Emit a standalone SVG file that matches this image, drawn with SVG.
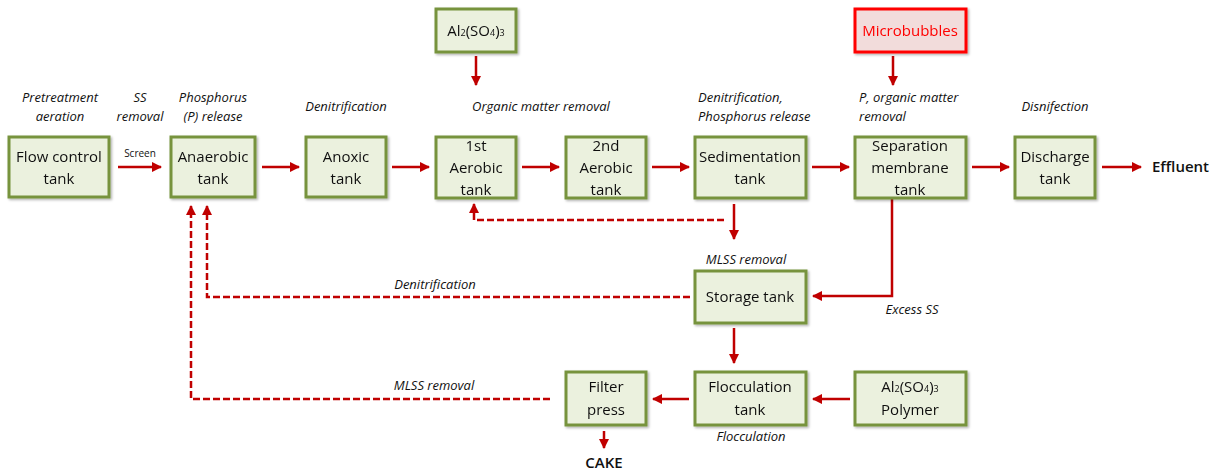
<svg xmlns="http://www.w3.org/2000/svg" width="1219" height="475" viewBox="0 0 1219 475">
<style>
.box{fill:#ebf1de;stroke:#77933c;stroke-width:3}
.red{fill:#f2dcdb;stroke:#ff0000;stroke-width:3}
.t{font-family:"Open Sans","Liberation Sans",sans-serif;font-size:15px;fill:#111;text-anchor:middle}
.it{font-family:"Open Sans","Liberation Sans",sans-serif;font-size:13px;font-style:italic;fill:#111;text-anchor:middle}
.ln{fill:none;stroke:#c00000;stroke-width:2.5}
.dl{fill:none;stroke:#c00000;stroke-width:2.5;stroke-dasharray:7 3}
.sub{font-size:9px}
</style>
<defs>
<marker id="ah" viewBox="0 0 10 10" refX="9" refY="5" markerWidth="4.2" markerHeight="4.2" orient="auto" markerUnits="strokeWidth">
<path d="M0,0 L10,5 L0,10 z" fill="#c00000"/>
</marker>
<filter id="sh" x="-10%" y="-10%" width="130%" height="130%"><feDropShadow dx="1.5" dy="1.5" stdDeviation="1" flood-color="#000" flood-opacity="0.3"/></filter>
</defs>

<g id="connectors">
<line class="ln" x1="118" y1="167" x2="161" y2="167" marker-end="url(#ah)"/>
<line class="ln" x1="262" y1="167" x2="299" y2="167" marker-end="url(#ah)"/>
<line class="ln" x1="392" y1="167" x2="429" y2="167" marker-end="url(#ah)"/>
<line class="ln" x1="522" y1="167" x2="559" y2="167" marker-end="url(#ah)"/>
<line class="ln" x1="652" y1="167" x2="689" y2="167" marker-end="url(#ah)"/>
<line class="ln" x1="812" y1="167" x2="849" y2="167" marker-end="url(#ah)"/>
<line class="ln" x1="972" y1="167" x2="1009" y2="167" marker-end="url(#ah)"/>
<line class="ln" x1="1102" y1="167" x2="1141" y2="167" marker-end="url(#ah)"/>
<line class="ln" x1="476" y1="56" x2="476" y2="85" marker-end="url(#ah)"/>
<line class="ln" x1="893" y1="56" x2="893" y2="85" marker-end="url(#ah)"/>
<line class="ln" x1="734" y1="204" x2="734" y2="239" marker-end="url(#ah)"/>
<polyline class="dl" points="724,220 474,220 474,204" marker-end="url(#ah)"/>
<polyline class="ln" points="892,199 892,296 813,296" marker-end="url(#ah)"/>
<polyline class="dl" points="690,297 207,297 207,206" marker-end="url(#ah)"/>
<line class="ln" x1="734" y1="328" x2="734" y2="363" marker-end="url(#ah)"/>
<line class="ln" x1="850" y1="399" x2="813" y2="399" marker-end="url(#ah)"/>
<line class="ln" x1="689" y1="399" x2="653" y2="399" marker-end="url(#ah)"/>
<line class="ln" x1="604" y1="431" x2="604" y2="448" marker-end="url(#ah)"/>
<polyline class="dl" points="550,399 191,399 191,206" marker-end="url(#ah)"/>
</g>

<g id="labels">
<text class="it" x="60" y="102">Pretreatment</text>
<text class="it" x="60" y="121">aeration</text>
<text class="it" x="140" y="102">SS</text>
<text class="it" x="140" y="121">removal</text>
<text class="it" x="213" y="102">Phosphorus</text>
<text class="it" x="213" y="121">(P) release</text>
<text class="it" x="346" y="111">Denitrification</text>
<text class="it" x="541" y="111">Organic matter removal</text>
<text class="it" x="698" y="102" style="text-anchor:start">Denitrification,</text>
<text class="it" x="698" y="121" style="text-anchor:start">Phosphorus release</text>
<text class="it" x="859" y="102" style="text-anchor:start">P, organic matter</text>
<text class="it" x="859" y="121" style="text-anchor:start">removal</text>
<text class="it" x="1055" y="111">Disnifection</text>
<text class="it" x="746" y="264">MLSS removal</text>
<text class="it" x="435" y="289">Denitrification</text>
<text class="it" x="912" y="314">Excess SS</text>
<text class="it" x="434" y="390">MLSS removal</text>
<text class="it" x="751" y="441">Flocculation</text>
<text x="140" y="157" style="font-family:'Open Sans','Liberation Sans',sans-serif;font-size:10px;fill:#111;text-anchor:middle">Screen</text>
<text class="t" x="1152" y="172" style="font-weight:600;text-anchor:start">Effluent</text>
<text class="t" x="604" y="468" style="font-weight:600">CAKE</text>
</g>

<g id="flow-control" filter="url(#sh)"><rect class="box" x="9" y="137" width="100" height="60"/>
<text class="t" x="59" y="162">Flow control</text><text class="t" x="59" y="184">tank</text></g>
<g id="anaerobic" filter="url(#sh)"><rect class="box" x="171" y="137" width="84" height="60"/>
<text class="t" x="213" y="162">Anaerobic</text><text class="t" x="213" y="184">tank</text></g>
<g id="anoxic" filter="url(#sh)"><rect class="box" x="306" y="137" width="80" height="60"/>
<text class="t" x="346" y="162">Anoxic</text><text class="t" x="346" y="184">tank</text></g>
<g id="aerobic1" filter="url(#sh)"><rect class="box" x="436" y="137" width="80" height="61"/>
<text class="t" x="476" y="151">1st</text><text class="t" x="476" y="173">Aerobic</text><text class="t" x="476" y="195">tank</text></g>
<g id="aerobic2" filter="url(#sh)"><rect class="box" x="566" y="137" width="80" height="61"/>
<text class="t" x="606" y="151">2nd</text><text class="t" x="606" y="173">Aerobic</text><text class="t" x="606" y="195">tank</text></g>
<g id="sedimentation" filter="url(#sh)"><rect class="box" x="695" y="137" width="111" height="61"/>
<text class="t" x="750" y="162">Sedimentation</text><text class="t" x="750" y="184">tank</text></g>
<g id="separation" filter="url(#sh)"><rect class="box" x="855" y="137" width="111" height="61"/>
<text class="t" x="910" y="151">Separation</text><text class="t" x="910" y="173">membrane</text><text class="t" x="910" y="195">tank</text></g>
<g id="discharge" filter="url(#sh)"><rect class="box" x="1015" y="137" width="80" height="61"/>
<text class="t" x="1055" y="162">Discharge</text><text class="t" x="1055" y="184">tank</text></g>
<g id="alum-top" filter="url(#sh)"><rect class="box" x="436" y="9" width="80" height="43"/>
<text class="t" x="476" y="36">Al<tspan class="sub">2</tspan>(SO<tspan class="sub">4</tspan>)<tspan class="sub">3</tspan></text></g>
<g id="microbubbles" filter="url(#sh)"><rect class="red" x="855" y="9" width="111" height="43"/>
<text class="t" x="910" y="36" style="fill:#ff0000">Microbubbles</text></g>
<g id="storage" filter="url(#sh)"><rect class="box" x="695" y="271" width="111" height="52"/>
<text class="t" x="750" y="302">Storage tank</text></g>
<g id="flocculation" filter="url(#sh)"><rect class="box" x="695" y="372" width="111" height="53"/>
<text class="t" x="750" y="392">Flocculation</text><text class="t" x="750" y="415">tank</text></g>
<g id="filter-press" filter="url(#sh)"><rect class="box" x="566" y="372" width="80" height="53"/>
<text class="t" x="606" y="392">Filter</text><text class="t" x="606" y="415">press</text></g>
<g id="alum-polymer" filter="url(#sh)"><rect class="box" x="855" y="372" width="111" height="53"/>
<text class="t" x="910" y="392">Al<tspan class="sub">2</tspan>(SO<tspan class="sub">4</tspan>)<tspan class="sub">3</tspan></text><text class="t" x="910" y="415">Polymer</text></g>
</svg>
